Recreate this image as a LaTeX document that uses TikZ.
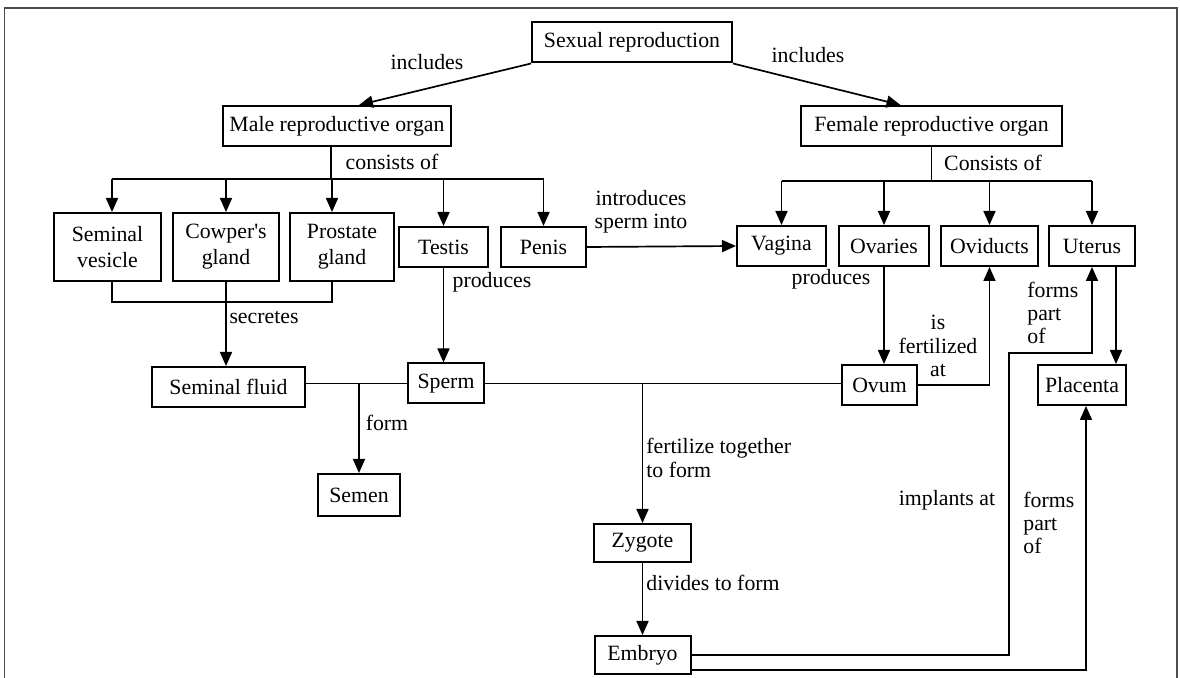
\documentclass[tikz,border=0pt]{standalone}
\usepackage{fontspec}
\setmainfont{Liberation Serif}
\usepackage{tikz}
\usetikzlibrary{arrows.meta, positioning}

\begin{document}
\begin{tikzpicture}[
    x=0.5pt, y=-0.5pt,
    box/.style={draw, rectangle, line width=1pt, align=center, inner sep=1pt, minimum height=20pt, font=\fontsize{10.9}{13}\selectfont},
    tallbox/.style={box, minimum height=34pt},
    lbl/.style={align=center, inner sep=0pt, font=\fontsize{10.9}{11.6}\selectfont},
    lbll/.style={lbl, align=left},
    line/.style={line width=0.85pt},
    arrow/.style={line, ->, >={Stealth[inset=0pt, length=7pt, width=6pt]}}
]
    \useasboundingbox (0,0) rectangle (1180,678);
    \draw[line width=0.6pt, black!70] (4.5,678) -- (4.5,8) -- (1177,8) -- (1177,678);

    % top
    \node (sexual) [box, minimum width=100pt] at (632,42.5) {Sexual reproduction};
    \node (male) [box, minimum width=114pt] at (337,126) {Male reproductive organ};
    \node (female) [box, minimum width=130.5pt] at (931.5,126) {Female reproductive organ};

    % male parts
    \node (semves) [tallbox, minimum width=53.5pt] at (107.5,247) {Seminal\\vesicle};
    \node (cowper) [tallbox, minimum width=53pt, right=5pt of semves] {Cowper\textquotesingle s\\gland};
    \node (prostate) [tallbox, minimum width=52pt, right=4.5pt of cowper] {Prostate\\gland};
    \node (testis) [box, minimum width=44.5pt] at (443.5,247) {Testis};
    \node (penis) [box, minimum width=42.5pt, right=5.5pt of testis] {Penis};

    % female parts
    \node (vagina) [box, minimum width=44.5pt] at (781.5,246) {Vagina};
    \node (ovaries) [box, minimum width=45pt, right=5.5pt of vagina] {Ovaries};
    \node (oviducts) [box, minimum width=48.5pt, right=5pt of ovaries] {Oviducts};
    \node (uterus) [box, minimum width=43pt, right=4.5pt of oviducts] {Uterus};

    % middle row
    \node (semfluid) [box, minimum width=76.5pt] at (228.5,387) {Seminal fluid};
    \node (sperm) [box, minimum width=38pt] at (446,383.5) {Sperm};
    \node (ovum) [box, minimum width=37.5pt] at (879.5,385) {Ovum};
    \node (placenta) [box, minimum width=44pt] at (1082,385) {Placenta};
    \node (semen) [box, minimum width=41pt, minimum height=21pt] at (359,495) {Semen};

    % bottom
    \node (zygote) [box, minimum width=48.5pt, minimum height=19pt] at (642.5,543) {Zygote};
    \node (embryo) [box, minimum width=48pt, minimum height=19pt, below=36pt of zygote] {Embryo};

    \coordinate (mbus) at (331,179);
    \coordinate (fbus) at (931,181);
    \coordinate (sbar) at (224,302);
    \coordinate (imp) at (1009,353);
    \coordinate (svx) at (112,0);
    \coordinate (pgx) at (332,0);

    % connectors
    \draw [arrow] (sexual.south west) -- ([xshift=11pt]male.north);
    \draw [arrow] (sexual.south east) -- ([xshift=-15.5pt]female.north);

    \draw [line] (male.south -| mbus) -- (mbus);
    \draw [line] (mbus -| svx) -- (mbus -| penis);
    \draw [arrow] (mbus -| svx) -- (svx |- semves.north);
    \draw [arrow] (mbus -| cowper) -- (cowper);
    \draw [arrow] (mbus -| pgx) -- (pgx |- prostate.north);
    \foreach \n in {testis,penis}
        \draw [arrow] (mbus -| \n) -- (\n);

    \draw [line] (female.south) -- (female.south |- fbus);
    \draw [line] (fbus -| vagina) -- (fbus -| uterus);
    \foreach \n in {vagina,ovaries,oviducts,uterus}
        \draw [arrow] (fbus -| \n) -- (\n);

    \draw [line] (svx |- semves.south) |- (sbar) -| (pgx |- prostate.south);
    \draw [arrow] (cowper.south) -- (cowper.south |- semfluid.north);
    \draw [arrow] (testis.south) -- (testis.south |- sperm.north);
    \draw [arrow] (penis.east) -- (vagina.west);

    \draw [line] (semfluid.east |- sperm.west) -- (sperm.west);
    \draw [arrow] (semen |- sperm.west) -- (semen);
    \draw [line] (sperm.east) -- (sperm.east -| ovum.west);
    \draw [arrow] (sperm.east -| zygote.north) -- (zygote);
    \draw [arrow] (zygote) -- (embryo);

    \draw [arrow] (ovaries.south) -- (ovaries.south |- ovum.north);
    \draw [arrow] (ovum.east) -| (oviducts.south);
    \draw [arrow] ([xshift=12pt]uterus.south) -- ([xshift=12pt]uterus.south |- placenta.north);
    \draw [arrow] (embryo.east) -| (imp) -| (uterus.south);
    \draw [arrow] ([yshift=-7.5pt]embryo.east) -| ([xshift=2pt]placenta.south);

    % labels
    \node (l1) [lbl] at (427,62) {includes};
    \node (l2) [lbl] at (808,55) {includes};
    \node (l3) [lbl] at (392,162) {consists of};
    \node (l4) [lbl] at (993,163) {Consists of};
    \node (l5) [lbl] at (641,212) {introduces\\sperm into};
    \node (l6) [lbl] at (492,282) {produces};
    \node (l7) [lbl] at (831,279) {produces};
    \node (l8) [lbl] at (264,317) {secretes};
    \node (l9) [lbl] at (387,423) {form};
    \node (l10) [lbl] at (938,346) {is\\fertilized\\at};
    \node (l11) [lbll, anchor=west] at (1027,313) {forms\\part\\of};
    \node (l12) [lbll, anchor=west] at (646,458) {fertilize together\\to form};
    \node (l13) [lbl, anchor=west] at (646,583) {divides to form};
    \node (l14) [lbl] at (947,500) {implants at};
    \node (l15) [lbll, anchor=west] at (1023,523) {forms\\part\\of};
\end{tikzpicture}
\end{document}
